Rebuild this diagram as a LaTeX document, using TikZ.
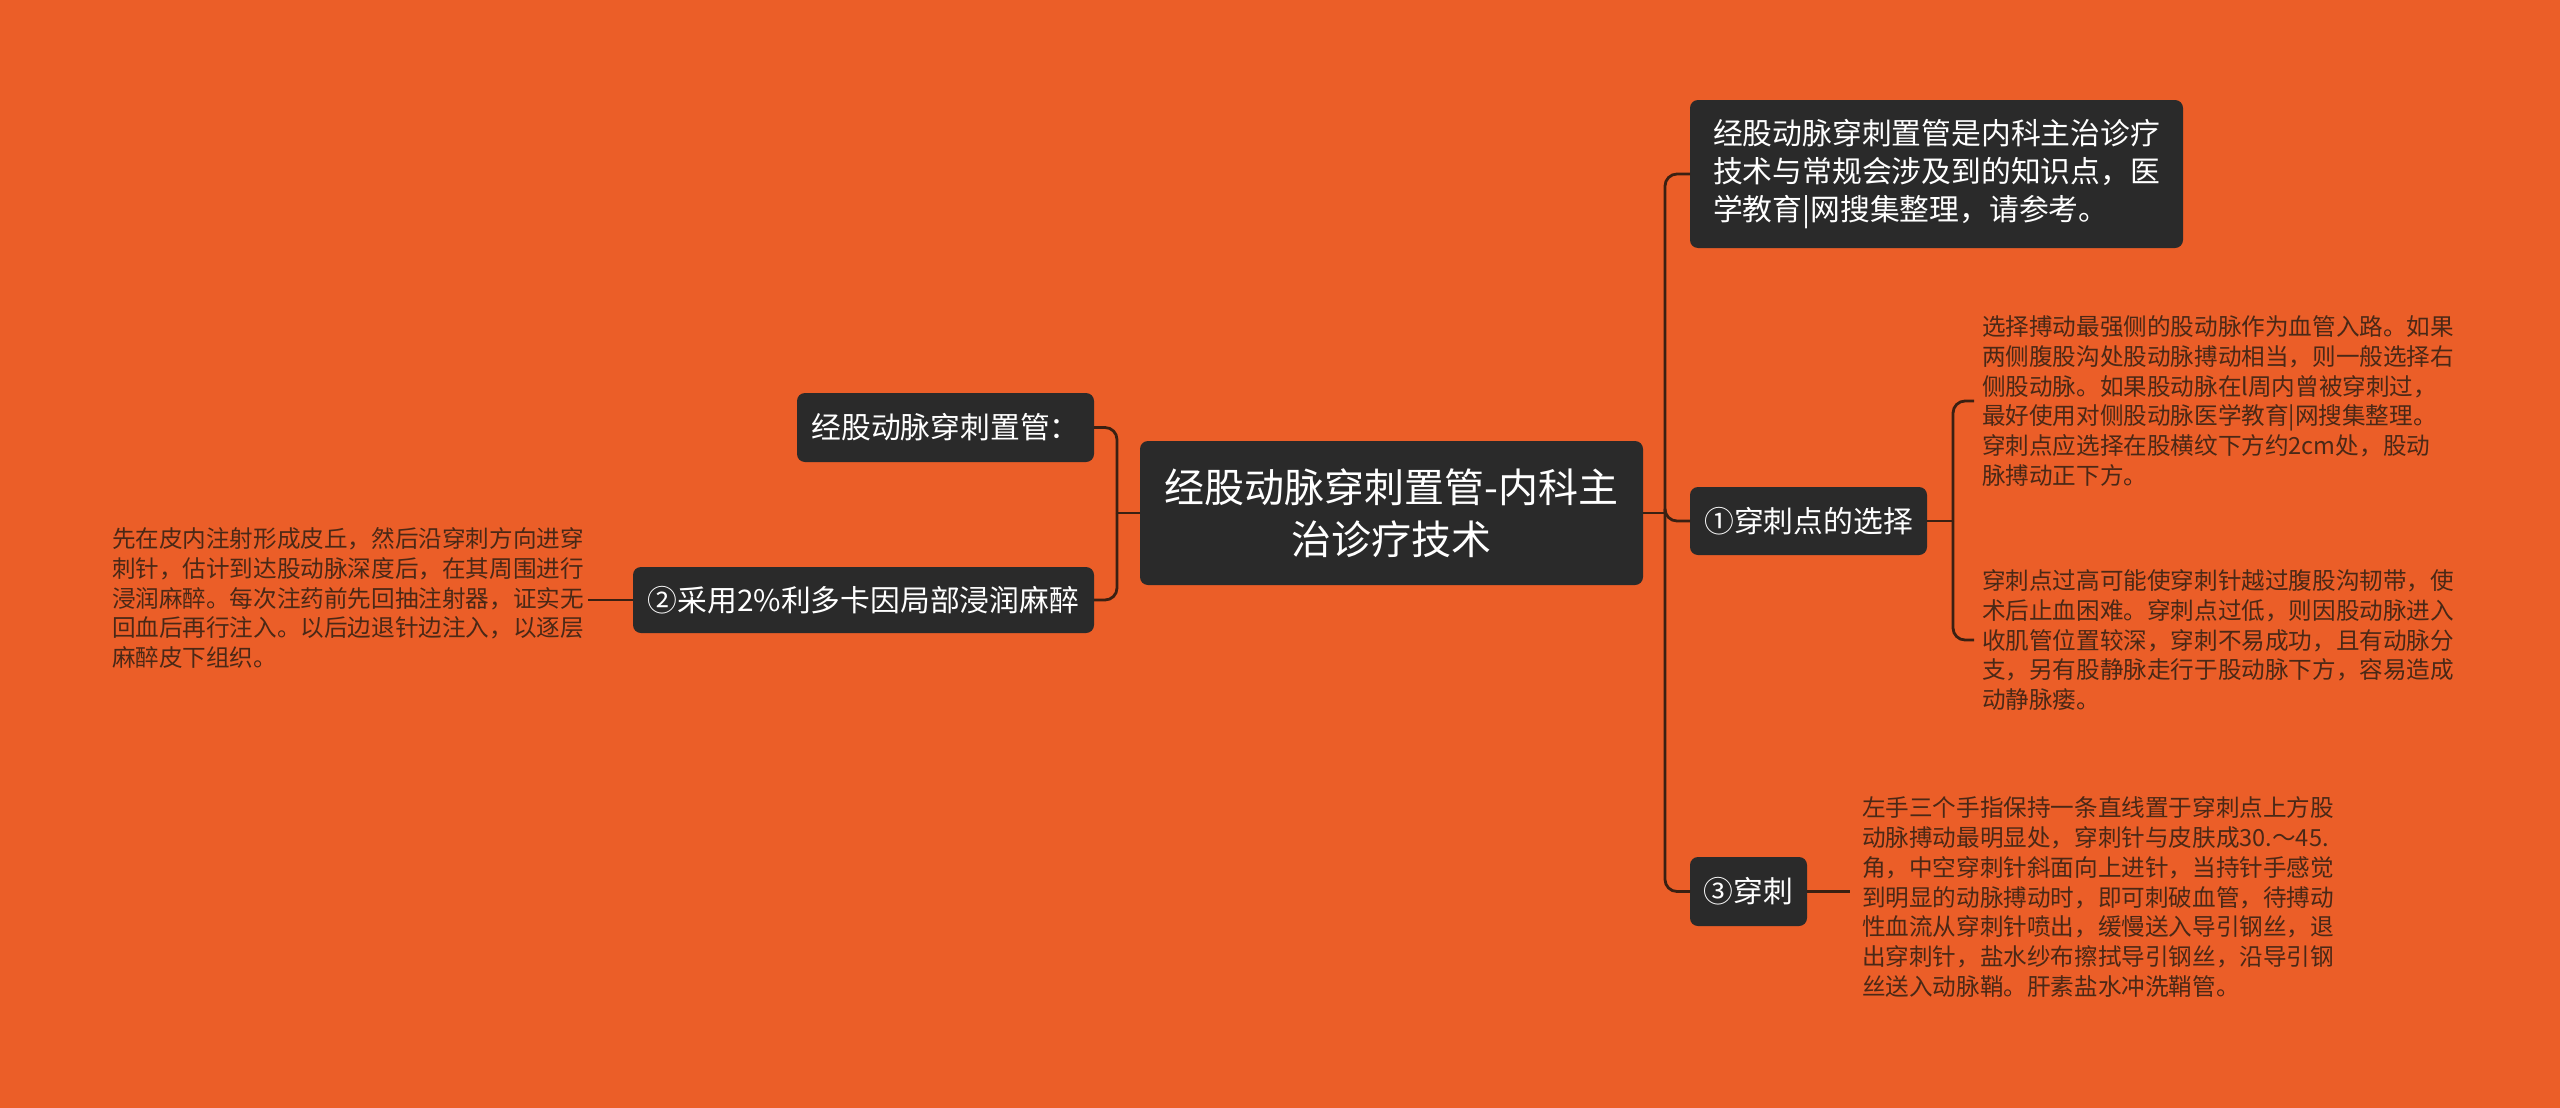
\documentclass[tikz,border=0pt]{standalone}
\usepackage{fontspec}
\setmainfont{Noto Sans CJK SC}
\usetikzlibrary{positioning}
\definecolor{bgorange}{HTML}{EB5E28}
\definecolor{boxdark}{HTML}{2A2A2A}
\definecolor{linkbrown}{HTML}{3A2012}
\definecolor{notebrown}{HTML}{4A2816}

\begin{document}
\begin{tikzpicture}[
		x=0.5pt, y=-0.5pt,
		every node/.style={inner sep=0pt, outer sep=0pt},
		topic/.style={rounded corners=4pt, fill=boxdark, text=white, align=center, font=\fontsize{14.9}{19.2}\selectfont},
		roottopic/.style={topic, font=\fontsize{20}{26}\selectfont, minimum width=251.5pt, minimum height=72pt},
		note/.style={text=notebrown, align=left, font=\fontsize{11.8}{14.85}\selectfont},
		link/.style={draw=linkbrown, line width=1.4pt, rounded corners=6pt}
		]
		
		\fill[bgorange] (0,0) rectangle (2560,1108);
		
		\node[roottopic] (root) at (1391.5,513) {经股动脉穿刺置管-内科主\\治诊疗技术};
		
		\node[topic, align=left, minimum width=246.5pt, minimum height=74pt] (intro) at (1936.5,174) {经股动脉穿刺置管是内科主治诊疗\\技术与常规会涉及到的知识点，医\\学教育|网搜集整理，请参考。};
		\node[topic, minimum width=118.5pt, minimum height=34pt] (site) at (1808.5,521) {①穿刺点的选择};
		\node[topic, minimum width=58.5pt, minimum height=34.5pt] (puncture) at (1748.5,891.5) {③穿刺};
		
		\node[topic, minimum width=148.5pt, minimum height=34.5pt] (method) at (945.5,427.5) {经股动脉穿刺置管：};
		\node[topic, minimum width=230.5pt, minimum height=33pt] (anesth) at (863.5,600) {②采用2\%利多卡因局部浸润麻醉};
		
		\node[note, anchor=west] (sitea) at (1982,401) {选择搏动最强侧的股动脉作为血管入路。如果\\两侧腹股沟处股动脉搏动相当，则一般选择右\\侧股动脉。如果股动脉在l周内曾被穿刺过，\\最好使用对侧股动脉医学教育|网搜集整理。\\穿刺点应选择在股横纹下方约2cm处，股动\\脉搏动正下方。};
		\node[note, anchor=west] (siteb) at (1982,640) {穿刺点过高可能使穿刺针越过腹股沟韧带，使\\术后止血困难。穿刺点过低，则因股动脉进入\\收肌管位置较深，穿刺不易成功，且有动脉分\\支，另有股静脉走行于股动脉下方，容易造成\\动静脉瘘。};
		\node[note, anchor=west] (steps) at (1862,897) {左手三个手指保持一条直线置于穿刺点上方股\\动脉搏动最明显处，穿刺针与皮肤成30.～45.\\角，中空穿刺针斜面向上进针，当持针手感觉\\到明显的动脉搏动时，即可刺破血管，待搏动\\性血流从穿刺针喷出，缓慢送入导引钢丝，退\\出穿刺针，盐水纱布擦拭导引钢丝，沿导引钢\\丝送入动脉鞘。肝素盐水冲洗鞘管。};
		\node[note, anchor=east] (anesthnote) at (584,598) {先在皮内注射形成皮丘，然后沿穿刺方向进穿\\刺针，估计到达股动脉深度后，在其周围进行\\浸润麻醉。每次注药前先回抽注射器，证实无\\回血后再行注入。以后边退针边注入，以逐层\\麻醉皮下组织。};
		
		\coordinate (rj) at (1665,513);
		\coordinate (lj) at (1117,513);
		\coordinate (sj) at (1953,521);
		
		\draw[link] (root.east) -- (rj);
		\draw[link] (rj) |- (intro.west);
		\draw[link] (rj) |- (site.west);
		\draw[link] (rj) |- (puncture.west);
		\draw[link] (root.west) -- (lj);
		\draw[link] (lj) |- (method.east);
		\draw[link] (lj) |- (anesth.east);
		\draw[link] (site.east) -- (sj);
		\draw[link] (sj) |- ([xshift=-4pt]sitea.west);
		\draw[link] (sj) |- ([xshift=-4pt]siteb.west);
		\draw[link] (puncture.east) -- ([xshift=-6pt]steps.west |- puncture.east);
		\draw[link] (anesth.west) -- ([xshift=2pt]anesthnote.east |- anesth.west);
		
	\end{tikzpicture}
\end{document}
